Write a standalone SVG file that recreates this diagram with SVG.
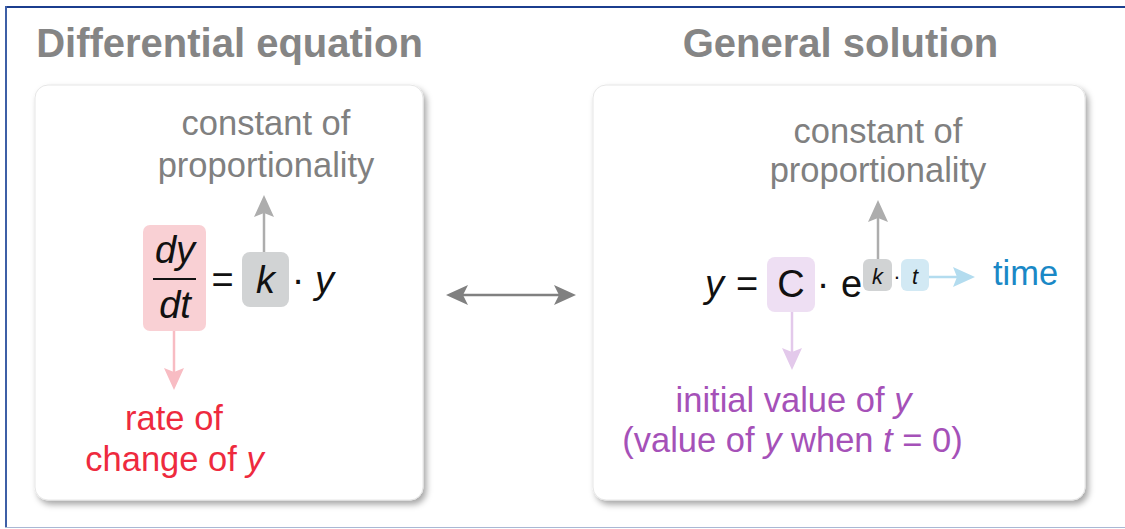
<svg xmlns="http://www.w3.org/2000/svg" width="1125" height="529" viewBox="0 0 1125 529">
<style>
text{font-family:"Liberation Sans",Arial,sans-serif}
.title{font-size:40px;font-weight:bold;fill:#858585;text-anchor:middle}
.lbl{font-size:34.5px;text-anchor:middle}
.lbl-start{font-size:34.5px;text-anchor:start}
.gray{fill:#808080}
.red{fill:#ee2a3e}
.purple{fill:#a551b8}
.blue{fill:#1a88c6}
.eq{font-size:38px;fill:#111}
.sup{font-size:22px;fill:#111}
.it{font-style:italic}
.panel{fill:#ffffff;stroke:#e6e6e6;stroke-width:1}
.conn{fill:none;stroke-width:2.5}
</style>
<defs>
<filter id="sh" x="-10%" y="-10%" width="125%" height="125%">
<feDropShadow dx="3" dy="4" stdDeviation="3" flood-color="#000" flood-opacity="0.35"/>
</filter>
<marker id="mLight" markerUnits="userSpaceOnUse" markerWidth="24" markerHeight="22" viewBox="0 0 24 22" refX="12" refY="11" orient="auto"><path d="M0,1 L22,11 L0,21 L4,11 Z" fill="#adadad"/></marker>
<marker id="mDark" markerUnits="userSpaceOnUse" markerWidth="24" markerHeight="22" viewBox="0 0 24 22" refX="12" refY="11" orient="auto-start-reverse"><path d="M0,1 L22,11 L0,21 L5,11 Z" fill="#808080"/></marker>
<marker id="mPink" markerUnits="userSpaceOnUse" markerWidth="24" markerHeight="22" viewBox="0 0 24 22" refX="12" refY="11" orient="auto"><path d="M0,1 L22,11 L0,21 L4,11 Z" fill="#f8bcc3"/></marker>
<marker id="mPurple" markerUnits="userSpaceOnUse" markerWidth="24" markerHeight="22" viewBox="0 0 24 22" refX="12" refY="11" orient="auto"><path d="M0,1 L22,11 L0,21 L4,11 Z" fill="#e3c9eb"/></marker>
<marker id="mBlue" markerUnits="userSpaceOnUse" markerWidth="24" markerHeight="22" viewBox="0 0 24 22" refX="12" refY="11" orient="auto"><path d="M0,1 L22,11 L0,21 L4,11 Z" fill="#b3dcef"/></marker>
</defs>
<rect width="1125" height="529" fill="#ffffff"/>
<g id="frame">
<line x1="5" y1="7" x2="1125" y2="7" stroke="#1b3e8e" stroke-width="2"/>
<line x1="6" y1="6" x2="6" y2="528" stroke="#3d5fa6" stroke-width="2"/>
<line x1="5" y1="527.5" x2="1125" y2="527.5" stroke="#a9b8d4" stroke-width="1.2"/>
</g>
<g id="titles">
<text class="title" x="229.5" y="57">Differential equation</text>
<text class="title" x="840.5" y="57">General solution</text>
</g>
<g id="panel-left">
<rect class="panel" x="35" y="85" width="388" height="415" rx="13" filter="url(#sh)"/>
</g>
<g id="panel-right">
<rect class="panel" x="593" y="85" width="492" height="415" rx="13" filter="url(#sh)"/>
</g>
<g id="connectors">
<line class="conn" x1="264" y1="252" x2="264" y2="205" stroke="#adadad" marker-end="url(#mLight)"/>
<line class="conn" x1="174" y1="331" x2="174" y2="380" stroke="#f8bcc3" marker-end="url(#mPink)"/>
<line class="conn" x1="456" y1="295" x2="566" y2="295" stroke="#808080" marker-start="url(#mDark)" marker-end="url(#mDark)"/>
<line class="conn" x1="878" y1="259" x2="878" y2="210" stroke="#adadad" marker-end="url(#mLight)"/>
<line class="conn" x1="792" y1="312" x2="792" y2="360" stroke="#e3c9eb" marker-end="url(#mPurple)"/>
<line class="conn" x1="929" y1="277" x2="965" y2="277" stroke="#b3dcef" marker-end="url(#mBlue)"/>
</g>
<g id="node-dydt">
<rect x="143" y="225" width="63" height="106" rx="7" fill="#f9d0d4"/>
<text class="eq it" x="175" y="263" text-anchor="middle">dy</text>
<line x1="153" y1="279" x2="196" y2="279" stroke="#111" stroke-width="2.2"/>
<text class="eq it" x="175" y="318" text-anchor="middle">dt</text>
</g>
<g id="eq-left">
<text class="eq" x="222.5" y="293" text-anchor="middle">=</text>
<text class="eq" x="298" y="293" text-anchor="middle">·</text>
<text class="eq it" x="315" y="293">y</text>
</g>
<g id="node-k-left">
<rect x="242" y="252" width="47" height="55" rx="8" fill="#d1d3d4"/>
<text class="eq it" x="265.5" y="293" text-anchor="middle">k</text>
</g>
<g id="label-const-left">
<text class="lbl gray" x="266" y="135">constant of</text>
<text class="lbl gray" x="266" y="177">proportionality</text>
</g>
<g id="label-rate">
<text class="lbl red" x="174" y="430">rate of</text>
<text class="lbl red" x="174.5" y="471">change of <tspan class="it">y</tspan></text>
</g>
<g id="eq-right">
<text class="eq it" x="705" y="297">y</text>
<text class="eq" x="747" y="297" text-anchor="middle">=</text>
<text class="eq" x="823" y="297" text-anchor="middle">·</text>
<text class="eq" x="841" y="297">e</text>
<text class="sup" x="897" y="284" text-anchor="middle">·</text>
</g>
<g id="node-C">
<rect x="767" y="257" width="48" height="55" rx="8" fill="#eedff3"/>
<text class="eq" x="791" y="297" text-anchor="middle">C</text>
</g>
<g id="node-k-right">
<rect x="863" y="259" width="29" height="32" rx="6" fill="#d1d3d4"/>
<text class="sup it" x="877.5" y="284" text-anchor="middle">k</text>
</g>
<g id="node-t">
<rect x="901" y="259" width="28" height="32" rx="6" fill="#d2e9f4"/>
<text class="sup it" x="915" y="284" text-anchor="middle">t</text>
</g>
<g id="label-const-right">
<text class="lbl gray" x="878" y="143">constant of</text>
<text class="lbl gray" x="878" y="182">proportionality</text>
</g>
<g id="label-time">
<text class="lbl-start blue" x="993" y="285">time</text>
</g>
<g id="label-initial">
<text class="lbl purple" x="793.5" y="412">initial value of <tspan class="it">y</tspan></text>
<text class="lbl purple" x="792.5" y="452">(value of <tspan class="it">y</tspan> when <tspan class="it">t</tspan> = 0)</text>
</g>
</svg>
